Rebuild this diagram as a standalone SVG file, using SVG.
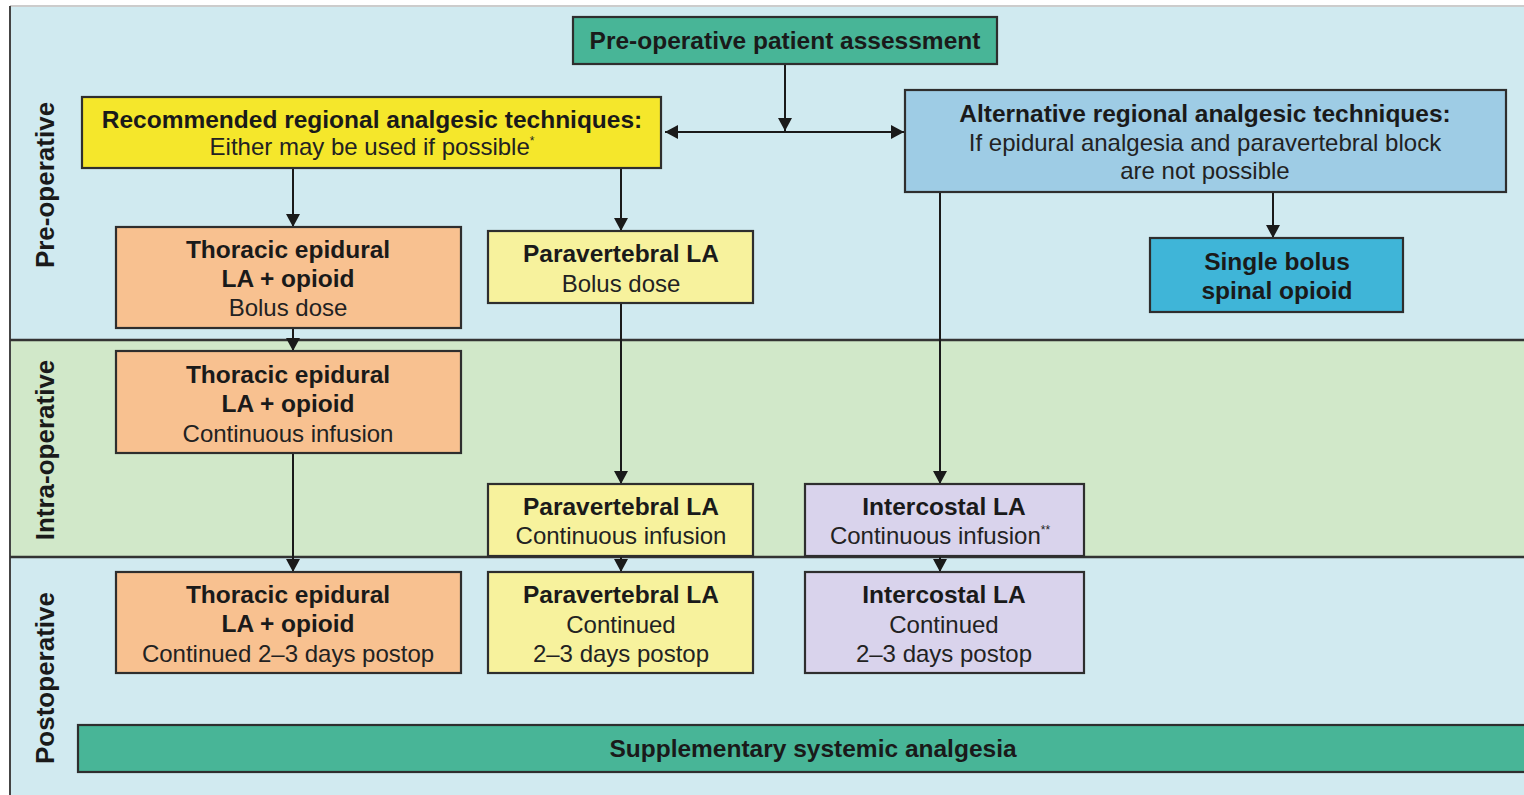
<svg xmlns="http://www.w3.org/2000/svg" width="1524" height="795" viewBox="0 0 1524 795">
<defs>
<marker id="ah" viewBox="0 0 13 14" refX="13" refY="7" markerWidth="13" markerHeight="14" markerUnits="userSpaceOnUse" orient="auto">
<path d="M0,0 L13,7 L0,14 Z" fill="#1a1a1a"/>
</marker>
<style>
.box{stroke:#2e2e2e;stroke-width:2.2}
.b{font-family:"Liberation Sans",Arial,sans-serif;font-weight:bold;font-size:24.5px;fill:#1a1a1a;text-anchor:middle}
.r{font-family:"Liberation Sans",Arial,sans-serif;font-size:24px;fill:#222;text-anchor:middle}
.lane{font-family:"Liberation Sans",Arial,sans-serif;font-weight:bold;font-size:26px;fill:#1a1a1a;text-anchor:middle}
.c{stroke:#1a1a1a;stroke-width:2;fill:none}
</style>
</defs>
<rect width="1524" height="795" fill="#ffffff"/>
<g id="lanes">
<rect x="10" y="7" width="1514" height="333" fill="#d0eaf0"/>
<rect x="10" y="340" width="1514" height="217" fill="#d1e8c9"/>
<rect x="10" y="557" width="1514" height="238" fill="#d1eaf0"/>
<line x1="10" y1="6" x2="1524" y2="6" stroke="#bbb" stroke-width="1.5"/>
<line x1="10" y1="6" x2="10" y2="795" stroke="#444" stroke-width="2"/>
<line x1="10" y1="340" x2="1524" y2="340" stroke="#333" stroke-width="2.5"/>
<line x1="10" y1="557" x2="1524" y2="557" stroke="#333" stroke-width="2.5"/>
<text class="lane" transform="translate(54,185) rotate(-90)">Pre-operative</text>
<text class="lane" transform="translate(54,450) rotate(-90)">Intra-operative</text>
<text class="lane" transform="translate(54,678) rotate(-90)">Postoperative</text>
</g>
<g id="connectors">
<line class="c" x1="785" y1="64" x2="785" y2="131" marker-end="url(#ah)"/>
<line class="c" x1="785" y1="132" x2="665" y2="132" marker-end="url(#ah)"/>
<line class="c" x1="785" y1="132" x2="904" y2="132" marker-end="url(#ah)"/>
<line class="c" x1="293" y1="168" x2="293" y2="227" marker-end="url(#ah)"/>
<line class="c" x1="621" y1="168" x2="621" y2="231" marker-end="url(#ah)"/>
<line class="c" x1="1273" y1="192" x2="1273" y2="238" marker-end="url(#ah)"/>
<line class="c" x1="940" y1="192" x2="940" y2="484" marker-end="url(#ah)"/>
<line class="c" x1="293" y1="328" x2="293" y2="351" marker-end="url(#ah)"/>
<line class="c" x1="621" y1="303" x2="621" y2="484" marker-end="url(#ah)"/>
<line class="c" x1="293" y1="453" x2="293" y2="572" marker-end="url(#ah)"/>
<line class="c" x1="621" y1="556" x2="621" y2="572" marker-end="url(#ah)"/>
<line class="c" x1="940" y1="556" x2="940" y2="572" marker-end="url(#ah)"/>
</g>
<g id="assessment">
<rect class="box" x="573" y="17" width="424" height="47" fill="#48b597"/>
<text class="b" x="785" y="49">Pre-operative patient assessment</text>
</g>
<g id="recommended">
<rect class="box" x="82" y="97" width="579" height="71" fill="#f5e72b"/>
<text class="b" x="372" y="128">Recommended regional analgesic techniques:</text>
<text class="r" x="372" y="155">Either may be used if possible<tspan font-size="12" dy="-10">*</tspan></text>
</g>
<g id="alternative">
<rect class="box" x="905" y="90" width="601" height="102" fill="#9ecce5"/>
<text class="b" x="1205" y="122">Alternative regional analgesic techniques:</text>
<text class="r" x="1205" y="151">If epidural analgesia and paravertebral block</text>
<text class="r" x="1205" y="179">are not possible</text>
</g>
<g id="spinal">
<rect class="box" x="1150" y="238" width="253" height="74" fill="#3fb5d8"/>
<text class="b" x="1277" y="270">Single bolus</text>
<text class="b" x="1277" y="299">spinal opioid</text>
</g>
<g id="epidural-bolus">
<rect class="box" x="116" y="227" width="345" height="101" fill="#f8c190"/>
<text class="b" x="288" y="258">Thoracic epidural</text>
<text class="b" x="288" y="287">LA + opioid</text>
<text class="r" x="288" y="316">Bolus dose</text>
</g>
<g id="paravertebral-bolus">
<rect class="box" x="488" y="231" width="265" height="72" fill="#f7f29d"/>
<text class="b" x="621" y="262">Paravertebral LA</text>
<text class="r" x="621" y="292">Bolus dose</text>
</g>
<g id="epidural-infusion">
<rect class="box" x="116" y="351" width="345" height="102" fill="#f8c190"/>
<text class="b" x="288" y="383">Thoracic epidural</text>
<text class="b" x="288" y="412">LA + opioid</text>
<text class="r" x="288" y="442">Continuous infusion</text>
</g>
<g id="paravertebral-infusion">
<rect class="box" x="488" y="484" width="265" height="72" fill="#f7f29d"/>
<text class="b" x="621" y="515">Paravertebral LA</text>
<text class="r" x="621" y="544">Continuous infusion</text>
</g>
<g id="intercostal-infusion">
<rect class="box" x="805" y="484" width="279" height="72" fill="#d9d3ec"/>
<text class="b" x="944" y="515">Intercostal LA</text>
<text class="r" x="940" y="544">Continuous infusion<tspan font-size="12" dy="-10">**</tspan></text>
</g>
<g id="epidural-postop">
<rect class="box" x="116" y="572" width="345" height="101" fill="#f8c190"/>
<text class="b" x="288" y="603">Thoracic epidural</text>
<text class="b" x="288" y="632">LA + opioid</text>
<text class="r" x="288" y="662">Continued 2–3 days postop</text>
</g>
<g id="paravertebral-postop">
<rect class="box" x="488" y="572" width="265" height="101" fill="#f7f29d"/>
<text class="b" x="621" y="603">Paravertebral LA</text>
<text class="r" x="621" y="633">Continued</text>
<text class="r" x="621" y="662">2–3 days postop</text>
</g>
<g id="intercostal-postop">
<rect class="box" x="805" y="572" width="279" height="101" fill="#d9d3ec"/>
<text class="b" x="944" y="603">Intercostal LA</text>
<text class="r" x="944" y="633">Continued</text>
<text class="r" x="944" y="662">2–3 days postop</text>
</g>
<g id="supplementary">
<rect class="box" x="78" y="725" width="1450" height="47" fill="#48b597"/>
<text class="b" x="813" y="757">Supplementary systemic analgesia</text>
</g>
</svg>
